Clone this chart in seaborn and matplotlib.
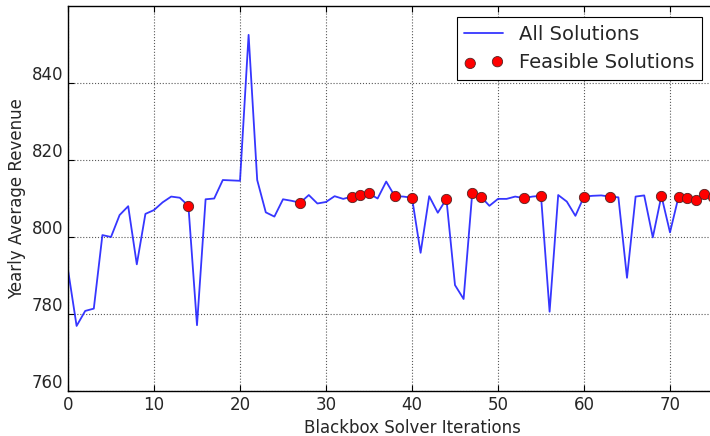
import numpy as np
import pandas as pd
import matplotlib
matplotlib.use("Agg")
import matplotlib.pyplot as plt
import matplotlib.transforms as mtransforms
import seaborn as sns

# -----------------------------------------------
# Data
# -----------------------------------------------
iterations = list(range(76))
revenue = [791.5, 776.9, 780.8, 781.4, 800.5, 800.0, 805.7, 808.0, 792.9, 806.0,
           807.0, 809.0, 810.5, 810.2, 808.1, 777.1, 809.8, 810.0, 814.8, 814.7,
           814.6, 852.5, 814.8, 806.4, 805.3, 809.8, 809.4, 808.9, 810.9, 808.7,
           809.1, 810.6, 809.9, 810.5, 811.0, 811.3, 810.0, 814.4, 810.6, 810.5,
           810.2, 795.9, 810.6, 806.3, 809.9, 787.5, 783.9, 811.3, 810.5, 808.1,
           809.9, 809.9, 810.5, 810.1, 810.5, 810.7, 780.6, 810.9, 809.2, 805.5,
           810.5, 810.7, 810.8, 810.5, 810.3, 789.4, 810.5, 810.8, 799.9, 810.7,
           801.2, 810.5, 810.1, 809.6, 811.1, 810.4]
feasible_idx = [14, 27, 33, 34, 35, 38, 40, 44, 47, 48, 53, 55, 60, 63,
                69, 71, 72, 73, 74, 75]
y_ticks = [760, 780, 800, 820, 840]
x_ticks = [0, 10, 20, 30, 40, 50, 60, 70]

df = pd.DataFrame({"iteration": iterations, "revenue": revenue})
feas = df.iloc[feasible_idx]

# -----------------------------------------------
# Style (old matplotlib "classic" look)
# -----------------------------------------------
sns.set_style("ticks")
plt.rcParams["font.family"] = ["DejaVu Sans"]
plt.rcParams["xtick.direction"] = "in"
plt.rcParams["ytick.direction"] = "in"

fig = plt.figure(figsize=(7.10, 4.36), dpi=100)
# axes runs a little past the right edge, like the cropped original
ax = fig.add_axes([68 / 710, 45 / 436, 688 / 710, 385 / 436])

sns.lineplot(data=df, x="iteration", y="revenue", ax=ax, color="#2020ff",
             alpha=0.9, linewidth=1.3, label="All Solutions")
sns.scatterplot(data=feas, x="iteration", y="revenue", ax=ax, color="red",
                s=55, edgecolor="#552222", linewidth=0.6, zorder=3,
                label="Feasible Solutions")

ax.set_xlim(0, 80)
ax.set_ylim(760, 860)
ax.set_xticks(x_ticks)
ax.set_yticks(y_ticks)
ax.tick_params(axis="both", labelsize=12, length=4, width=0.8,
               top=True, right=True, color="black")
ax.grid(True, linestyle=":", color="0.35", linewidth=0.8)
for sp in ax.spines.values():
    sp.set_color("black")
    sp.set_linewidth(1.0)

# y tick labels sit slightly above their ticks in the original
offset = mtransforms.ScaledTranslation(0, 0.10, fig.dpi_scale_trans)
for lab in ax.get_yticklabels():
    lab.set_transform(lab.get_transform() + offset)

ax.set_xlabel("Blackbox Solver Iterations", fontsize=12)
ax.set_ylabel("Yearly Average Revenue", fontsize=12)

leg = ax.legend(loc="upper right", bbox_to_anchor=(702 / 710, 1 - 17 / 436),
                bbox_transform=fig.transFigure, fontsize=14, scatterpoints=2,
                handlelength=2.0, fancybox=False, framealpha=1,
                edgecolor="black", borderaxespad=0)
leg.get_frame().set_linewidth(0.8)

fig.savefig("out.png", dpi=100)
